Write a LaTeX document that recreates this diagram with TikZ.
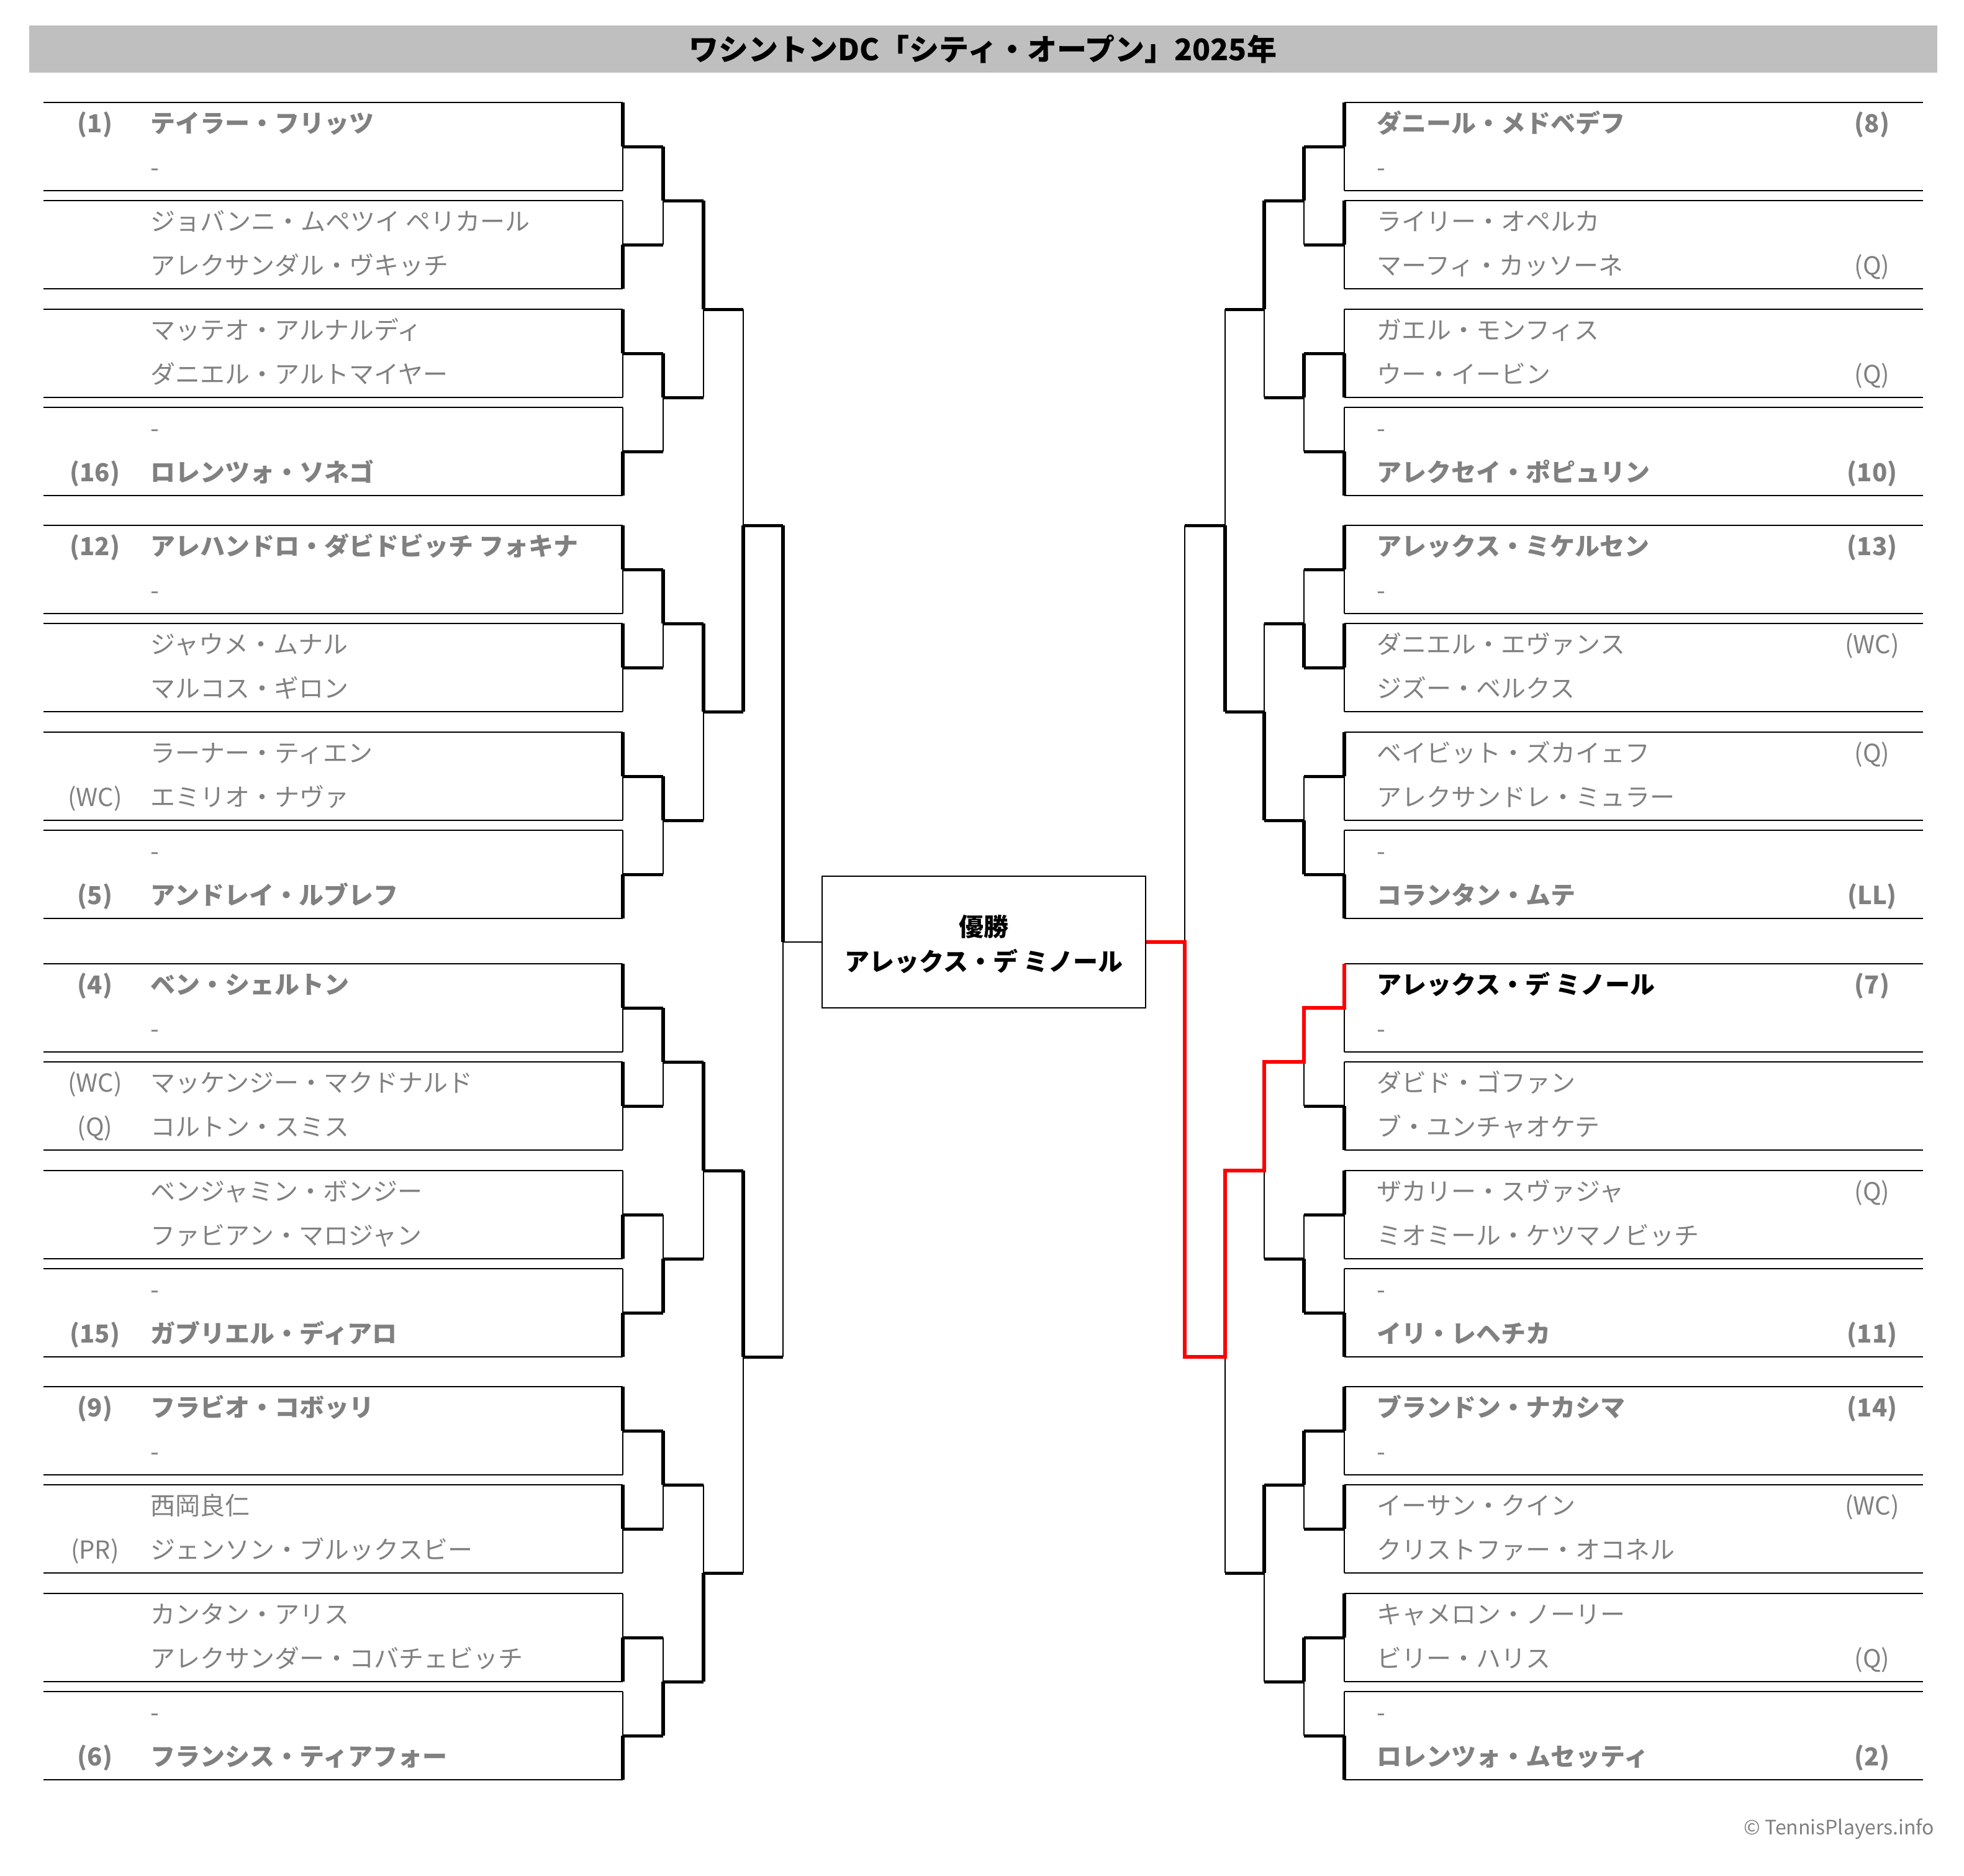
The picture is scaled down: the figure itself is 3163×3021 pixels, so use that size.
\documentclass[tikz,border=0pt]{standalone}
\usepackage{fontspec}
\setmainfont{Noto Sans CJK JP}
\definecolor{nmc}{HTML}{808080}
\definecolor{barc}{HTML}{BFBFBF}
\definecolor{winc}{HTML}{FF0000}
\newcommand\Lp[3]{%
  \node[nmsty,anchor=base west] (Ln#1) at (242,#1) {#3};
  \node[nmsty,anchor=base] (Ls#1) at (153,#1) {#2};}
\newcommand\Lb[3]{%
  \node[nbsty,anchor=base west] (Ln#1) at (242,#1) {#3};
  \node[nbsty,anchor=base] (Ls#1) at (153,#1) {#2};}
\newcommand\Rp[3]{%
  \node[nmsty,anchor=base west] (Rn#1) at (2217,#1) {#3};
  \node[nmsty,anchor=base] (Rs#1) at (3015,#1) {#2};}
\newcommand\Rb[3]{%
  \node[nbsty,anchor=base west] (Rn#1) at (2217,#1) {#3};
  \node[nbsty,anchor=base] (Rs#1) at (3015,#1) {#2};}
\newcommand\Rw[3]{%
  \node[nbsty,text=black,anchor=base west] (Rn#1) at (2217,#1) {#3};
  \node[nbsty,anchor=base] (Rs#1) at (3015,#1) {#2};}
\begin{document}
\begin{tikzpicture}[x=0.25pt,y=-0.25pt,
  boxline/.style={line width=0.7pt},
  thinv/.style={line width=0.7pt},
  thickv/.style={line width=1.35pt},
  hline/.style={line width=1.25pt},
  redl/.style={line width=1.3pt,draw=winc,line join=miter},
  nmsty/.style={font=\fontsize{10}{12}\selectfont, text=nmc, inner sep=0pt},
  nbsty/.style={font=\fontsize{10}{12}\selectfont\bfseries, text=nmc, inner sep=0pt},
]
\useasboundingbox (0,0) rectangle (3163,3021);
% title bar
\fill[barc] (47,41) rectangle (3120,117);
\node[font=\fontsize{12}{14}\selectfont\bfseries, anchor=base, inner sep=0pt] (title) at (1583,97) {ワシントンDC「シティ・オープン」2025年};
% match boxes
\foreach \t in {165,323,498,656,846,1004,1179,1337,1552,1710,1885,2043,2233,2391,2566,2724} {
  \draw[boxline] (70,\t) -- (1003,\t) (70,\t+142) -- (1003,\t+142);
  \draw[boxline] (2165,\t) -- (3097,\t) (2165,\t+142) -- (3097,\t+142);
  \draw[thinv] (1003,\t) -- (1003,\t+142);
  \draw[thinv] (2165,\t) -- (2165,\t+142);
  \draw[hline] (1003,\t+71) -- (1068,\t+71);
  \draw[hline] (2165,\t+71) -- (2100,\t+71);
}
% level 1
\foreach \a/\j/\b in {236/323/394,569/640/727,917/1004/1075,1250/1321/1408,1623/1710/1781,1956/2027/2114,2304/2391/2462,2637/2708/2795} {
  \draw[thinv] (1068,\a) -- (1068,\b);
  \draw[thinv] (2100,\a) -- (2100,\b);
  \draw[hline] (1068,\j) -- (1133,\j);
  \draw[hline] (2100,\j) -- (2036,\j);
}
% level 2
\foreach \a/\j/\b in {323/498/640,1004/1146/1321,1710/1885/2027,2391/2533/2708} {
  \draw[thinv] (1133,\a) -- (1133,\b);
  \draw[thinv] (2036,\a) -- (2036,\b);
  \draw[hline] (1133,\j) -- (1197,\j);
  \draw[hline] (2036,\j) -- (1973,\j);
}
% level 3
\foreach \a/\j/\b in {498/846/1146,1885/2185/2533} {
  \draw[thinv] (1197,\a) -- (1197,\b);
  \draw[thinv] (1973,\a) -- (1973,\b);
  \draw[hline] (1197,\j) -- (1261,\j);
  \draw[hline] (1973,\j) -- (1908,\j);
}
% level 4
\draw[thinv] (1261,846) -- (1261,2185);
\draw[thinv] (1908,846) -- (1908,2185);
% champion box
\node[draw, line width=0.6pt, minimum width=130.25pt, minimum height=53pt, inner sep=0pt] (champ) at (1584.5,1517) {};
\node[font=\fontsize{10}{12}\selectfont\bfseries, anchor=base, inner sep=0pt] (champt) at (1584.5,1507) {優勝};
\node[font=\fontsize{10}{12}\selectfont\bfseries, anchor=base, inner sep=0pt] (champn) at (1584.5,1563) {アレックス・デ ミノール};
\draw[thinv] (1261,1517) -- (champ.west);
% thick (winner) halves, left
\foreach \a/\b in {165/236,394/465,498/569,727/798,846/917,1004/1075,1179/1250,1408/1479,1552/1623,1710/1781,1956/2027,2114/2185,2233/2304,2391/2462,2637/2708,2795/2866}
  \draw[thickv] (1003,\a) -- (1003,\b);
\foreach \a/\b in {236/323,569/640,917/1004,1250/1321,1623/1710,2027/2114,2304/2391,2708/2795}
  \draw[thickv] (1068,\a) -- (1068,\b);
\foreach \a/\b in {323/498,1004/1146,1710/1885,2533/2708}
  \draw[thickv] (1133,\a) -- (1133,\b);
\foreach \a/\b in {846/1146,1885/2185}
  \draw[thickv] (1197,\a) -- (1197,\b);
\draw[thickv] (1261,846) -- (1261,1517);
% thick halves, right
\foreach \a/\b in {165/236,323/394,569/640,727/798,846/917,1004/1075,1179/1250,1408/1479,1781/1852,1885/1956,2114/2185,2233/2304,2391/2462,2566/2637,2795/2866}
  \draw[thickv] (2165,\a) -- (2165,\b);
\foreach \a/\b in {236/323,569/640,1004/1075,1321/1408,2027/2114,2304/2391,2637/2708}
  \draw[thickv] (2100,\a) -- (2100,\b);
\foreach \a/\b in {323/498,1146/1321,2391/2533}
  \draw[thickv] (2036,\a) -- (2036,\b);
\draw[thickv] (1973,846) -- (1973,1146);
% champion path
\draw[redl] (2165,1552) -- (2165,1623) -- (2100,1623) -- (2100,1710) -- (2036,1710) -- (2036,1885) -- (1973,1885) -- (1973,2185) -- (1908,2185) -- (1908,1517) -- (champ.east);
% left players
\Lb{213}{(1)}{テイラー・フリッツ}
\Lp{284}{}{-}
\Lp{371}{}{ジョバンニ・ムペツイ ペリカール}
\Lp{442}{}{アレクサンダル・ヴキッチ}
\Lp{546}{}{マッテオ・アルナルディ}
\Lp{617}{}{ダニエル・アルトマイヤー}
\Lp{704}{}{-}
\Lb{775}{(16)}{ロレンツォ・ソネゴ}
\Lb{894}{(12)}{アレハンドロ・ダビドビッチ フォキナ}
\Lp{965}{}{-}
\Lp{1052}{}{ジャウメ・ムナル}
\Lp{1123}{}{マルコス・ギロン}
\Lp{1227}{}{ラーナー・ティエン}
\Lp{1298}{(WC)}{エミリオ・ナヴァ}
\Lp{1385}{}{-}
\Lb{1456}{(5)}{アンドレイ・ルブレフ}
\Lb{1600}{(4)}{ベン・シェルトン}
\Lp{1671}{}{-}
\Lp{1758}{(WC)}{マッケンジー・マクドナルド}
\Lp{1829}{(Q)}{コルトン・スミス}
\Lp{1933}{}{ベンジャミン・ボンジー}
\Lp{2004}{}{ファビアン・マロジャン}
\Lp{2091}{}{-}
\Lb{2162}{(15)}{ガブリエル・ディアロ}
\Lb{2281}{(9)}{フラビオ・コボッリ}
\Lp{2352}{}{-}
\Lp{2439}{}{西岡良仁}
\Lp{2510}{(PR)}{ジェンソン・ブルックスビー}
\Lp{2614}{}{カンタン・アリス}
\Lp{2685}{}{アレクサンダー・コバチェビッチ}
\Lp{2772}{}{-}
\Lb{2843}{(6)}{フランシス・ティアフォー}
% right players
\Rb{213}{(8)}{ダニール・メドベデフ}
\Rp{284}{}{-}
\Rp{371}{}{ライリー・オペルカ}
\Rp{442}{(Q)}{マーフィ・カッソーネ}
\Rp{546}{}{ガエル・モンフィス}
\Rp{617}{(Q)}{ウー・イービン}
\Rp{704}{}{-}
\Rb{775}{(10)}{アレクセイ・ポピュリン}
\Rb{894}{(13)}{アレックス・ミケルセン}
\Rp{965}{}{-}
\Rp{1052}{(WC)}{ダニエル・エヴァンス}
\Rp{1123}{}{ジズー・ベルクス}
\Rp{1227}{(Q)}{ベイビット・ズカイェフ}
\Rp{1298}{}{アレクサンドレ・ミュラー}
\Rp{1385}{}{-}
\Rb{1456}{(LL)}{コランタン・ムテ}
\Rw{1600}{(7)}{アレックス・デ ミノール}
\Rp{1671}{}{-}
\Rp{1758}{}{ダビド・ゴファン}
\Rp{1829}{}{ブ・ユンチャオケテ}
\Rp{1933}{(Q)}{ザカリー・スヴァジャ}
\Rp{2004}{}{ミオミール・ケツマノビッチ}
\Rp{2091}{}{-}
\Rb{2162}{(11)}{イリ・レヘチカ}
\Rb{2281}{(14)}{ブランドン・ナカシマ}
\Rp{2352}{}{-}
\Rp{2439}{(WC)}{イーサン・クイン}
\Rp{2510}{}{クリストファー・オコネル}
\Rp{2614}{}{キャメロン・ノーリー}
\Rp{2685}{(Q)}{ビリー・ハリス}
\Rp{2772}{}{-}
\Rb{2843}{(2)}{ロレンツォ・ムセッティ}
% credit
\node[font=\fontsize{8}{10}\selectfont, text=nmc, anchor=base east, inner sep=0pt] (credit) at (3116,2954) {© TennisPlayers.info};
\end{tikzpicture}
\end{document}
